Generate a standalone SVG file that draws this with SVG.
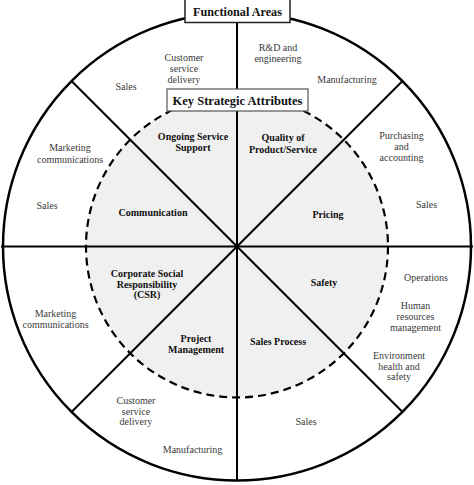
<svg xmlns="http://www.w3.org/2000/svg" width="474" height="485" viewBox="0 0 474 485">
<style>
.t{font-family:"Liberation Serif","Times New Roman",serif;font-size:10px;fill:#3a3a3a;text-anchor:middle}
.b{font-family:"Liberation Serif","Times New Roman",serif;font-size:10px;font-weight:bold;fill:#111;text-anchor:middle}
.ln{stroke:#000;stroke-width:2;fill:none}
</style>
<rect width="474" height="485" fill="#fff"/>
<g id="inner-disc">
<circle cx="237" cy="246.5" r="151" fill="#f0f0f0"/>
<circle cx="237" cy="246.5" r="151" fill="none" stroke="#000" stroke-width="2.2" stroke-dasharray="8,5"/>
</g>
<g id="connectors">
<line class="ln" x1="1" y1="246.5" x2="473" y2="246.5"/>
<line class="ln" x1="237" y1="22" x2="237" y2="481"/>
<line class="ln" x1="71.5" y1="81" x2="402.5" y2="412"/>
<line class="ln" x1="402.5" y1="81" x2="71.5" y2="412"/>
</g>
<g id="outer-circle">
<circle cx="237" cy="246.5" r="234" fill="none" stroke="#000" stroke-width="2.5"/>
</g>
<g id="functional-areas">
<rect x="185" y="-1" width="105" height="23.5" fill="#fff" stroke="#222" stroke-width="1.5"/>
<text class="b" x="237.5" y="16" style="font-size:12.2px">Functional Areas</text>
</g>
<g id="key-strategic-attributes">
<rect x="167" y="89" width="141" height="22" fill="#fff" stroke="#555" stroke-width="1.2"/>
<text class="b" x="237.5" y="105" style="font-size:12.5px">Key Strategic Attributes</text>
</g>
<g id="fa-customer-service-top"><text class="t" x="184" y="60.5">Customer</text><text class="t" x="184" y="71.5">service</text><text class="t" x="184" y="82.5">delivery</text></g>
<g id="fa-sales-top"><text class="t" x="126" y="89.5">Sales</text></g>
<g id="fa-rd"><text class="t" x="278" y="50.5">R&amp;D and</text><text class="t" x="278" y="61.5">engineering</text></g>
<g id="fa-manufacturing-top"><text class="t" x="347" y="82.5">Manufacturing</text></g>
<g id="fa-marketing-left-top"><text class="t" x="70" y="151">Marketing</text><text class="t" x="70" y="162.5">communications</text></g>
<g id="fa-sales-left"><text class="t" x="47" y="208.5">Sales</text></g>
<g id="fa-purchasing"><text class="t" x="401.5" y="138.5">Purchasing</text><text class="t" x="401.5" y="149.5">and</text><text class="t" x="401.5" y="160.5">accounting</text></g>
<g id="fa-sales-right"><text class="t" x="426.5" y="208">Sales</text></g>
<g id="fa-marketing-left-bottom"><text class="t" x="55.5" y="317">Marketing</text><text class="t" x="55.5" y="328">communications</text></g>
<g id="fa-operations"><text class="t" x="426" y="281">Operations</text></g>
<g id="fa-hr"><text class="t" x="415.5" y="309">Human</text><text class="t" x="415.5" y="320">resources</text><text class="t" x="415.5" y="331">management</text></g>
<g id="fa-environment"><text class="t" x="399" y="358.5">Environment</text><text class="t" x="399" y="369.5">health and</text><text class="t" x="399" y="380">safety</text></g>
<g id="fa-customer-service-bottom"><text class="t" x="136" y="403.5">Customer</text><text class="t" x="136" y="414.5">service</text><text class="t" x="136" y="425">delivery</text></g>
<g id="fa-manufacturing-bottom"><text class="t" x="192.5" y="452.5">Manufacturing</text></g>
<g id="fa-sales-bottom"><text class="t" x="306" y="425">Sales</text></g>
<g id="ksa-ongoing"><text class="b" x="193" y="140">Ongoing Service</text><text class="b" x="193" y="151">Support</text></g>
<g id="ksa-quality"><text class="b" x="283" y="141">Quality of</text><text class="b" x="283" y="152.5">Product/Service</text></g>
<g id="ksa-communication"><text class="b" x="153" y="216">Communication</text></g>
<g id="ksa-pricing"><text class="b" x="328" y="217.5">Pricing</text></g>
<g id="ksa-csr"><text class="b" x="147" y="277">Corporate Social</text><text class="b" x="147" y="288">Responsibility</text><text class="b" x="147" y="298">(CSR)</text></g>
<g id="ksa-safety"><text class="b" x="324" y="286">Safety</text></g>
<g id="ksa-project"><text class="b" x="196" y="342">Project</text><text class="b" x="196" y="353">Management</text></g>
<g id="ksa-sales-process"><text class="b" x="278" y="344.5">Sales Process</text></g>
</svg>
